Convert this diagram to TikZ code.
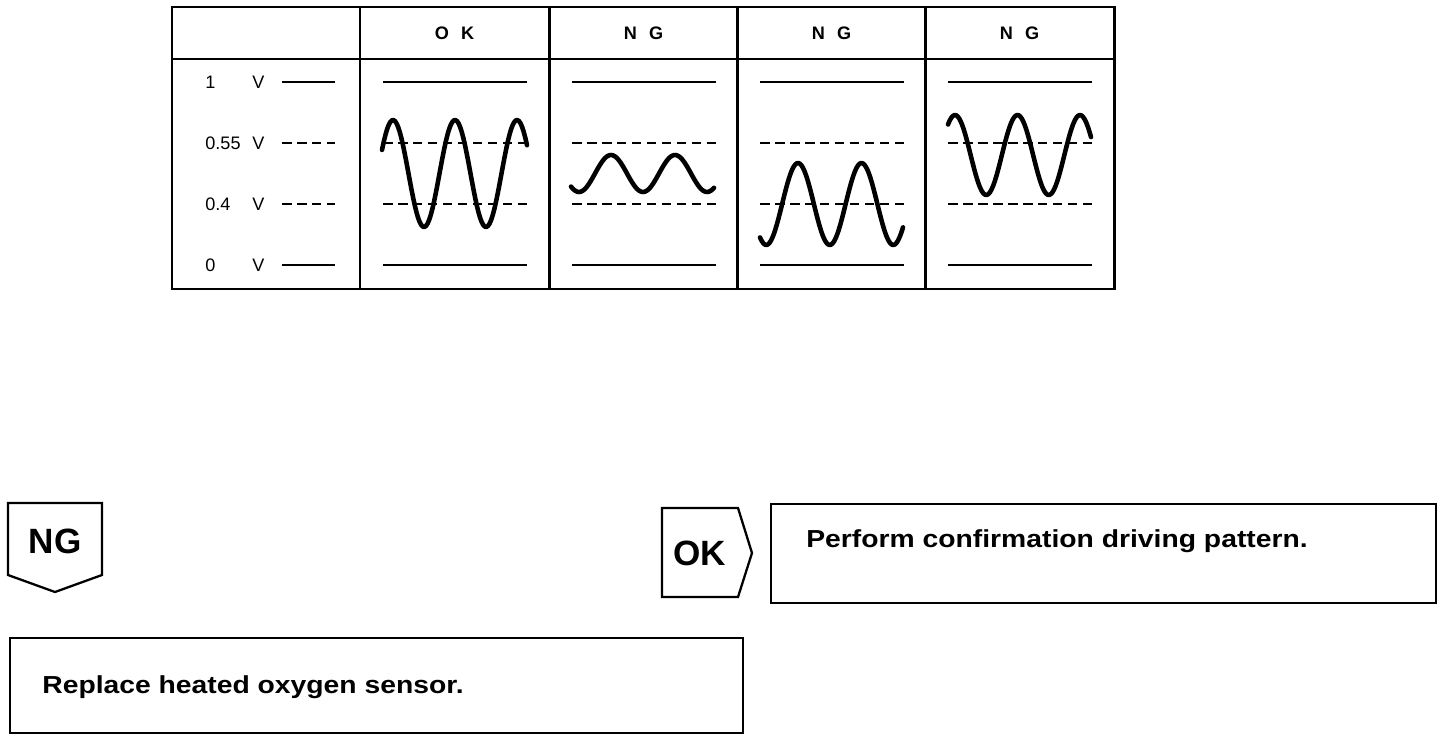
\documentclass[tikz,border=0pt]{standalone}
\usepackage{fontspec}
\setmainfont{Liberation Sans}
\newfontfamily\widefont{Liberation Sans}[FakeStretch=1.15]
\usetikzlibrary{positioning}

\newcommand{\pair}[2]{#1\hspace{7pt}#2}
\newcommand{\sinewave}[6]{%
  \draw[wave] plot[domain = #1:#2, samples = 90] (\x, {#3 - #4*cos((360/#6)*(\x - #5))});}

\tikzset{
  grid/.style = {line width = 1.7pt},
  level/.style = {line width = 1.3pt},
  midlevel/.style = {line width = 1.1pt, dash pattern = on 0.19cm off 0.11cm},
  wave/.style = {line width = 2.6pt, line cap = round, line join = round, smooth},
  badge/.style = {line width = 1.3pt, line join = miter},
  box/.style = {line width = 1.2pt},
  scaletext/.style = {font = \fontsize{10.3}{12}\selectfont},
  headtext/.style = {font = \fontsize{10.3}{12}\selectfont\bfseries},
  badgetext/.style = {font = \fontsize{20}{24}\selectfont\bfseries},
  steptext/.style = {font = \fontsize{14}{17}\selectfont\widefont\bfseries}
}

\begin{document}
\begin{tikzpicture}[x = 0.02cm, y = -0.02cm, every node/.style = {inner sep = 0pt}]
  \useasboundingbox (0,0) rectangle (1456,740);

  % table frame
  \draw[grid] (172,7) rectangle (1114,289);
  \draw[grid] (172,59) -- (1114,59);
  \foreach \cx in {360, 549, 737, 925}
    \draw[grid] (\cx,7) -- (\cx,289);

  % column heads
  \foreach \cx/\lab [count = \i] in {360/\pair{O}{K}, 549/\pair{N}{G}, 737/\pair{N}{G}, 925/\pair{N}{G}}
    \node[headtext] (head-\i) at (\cx+94.5,33) {\lab};

  % voltage scale
  \foreach \yy/\num [count = \i] in {82/1, 143/0.55, 204/0.4, 265/0} {
    \node[scaletext, anchor = west] (num-\i) at (205,\yy) {\num};
    \node[scaletext, anchor = west] (unit-\i) at (252,\yy) {V};
  }
  \foreach \yy/\sty in {82/level, 143/midlevel, 204/midlevel, 265/level} {
    \draw[\sty] (282,\yy) -- (335,\yy);
    \foreach \cx in {360, 549, 737, 925}
      \draw[\sty] (\cx+23,\yy) -- (\cx+167,\yy);
  }

  % signals
  \sinewave{382}{527}{173.5}{53.5}{393}{62}
  \sinewave{571}{714}{173.5}{18.5}{611}{64}
  \sinewave{760}{903}{204}{41}{798}{63.5}
  \sinewave{948}{1091}{155}{40}{955}{62.5}

  % NG branch
  \draw[badge] (8,503) -- (102,503) -- (102,575) -- (55,592) -- (8,575) -- cycle;
  \node[badgetext] (ng) at (55,541) {NG};
  \draw[box] (10,638) rectangle (743,733);
  \node[steptext, anchor = base west] (replace) at (42,693) {Replace heated oxygen sensor.};

  % OK branch
  \draw[badge] (662,508) -- (738,508) -- (752,553) -- (738,597) -- (662,597) -- cycle;
  \node[badgetext] (ok) at (700,553) {OK};
  \draw[box] (771,504) rectangle (1436,603);
  \node[steptext, anchor = base west] (perform) at (806,547) {Perform confirmation driving pattern.};
\end{tikzpicture}
\end{document}
